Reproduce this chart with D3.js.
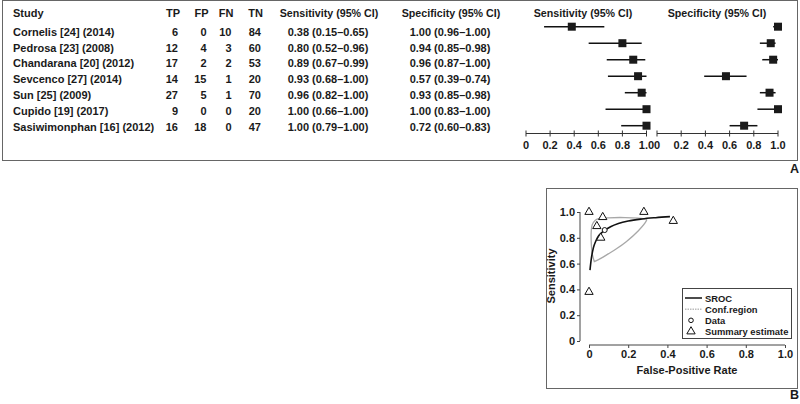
<!DOCTYPE html>
<html>
<head>
<meta charset="utf-8">
<script src="https://cdn.jsdelivr.net/npm/d3@7"></script>
<style>
  body { margin: 0; background: #fff; }
  text { font-family: "Liberation Sans", Arial, Helvetica, sans-serif; font-weight: bold; fill: #1a1a1a; }
</style>
</head>
<body>
<div id="root"></div>
<script>
// study table
const studies = ["Cornelis [24] (2014)", "Pedrosa [23] (2008)", "Chandarana [20] (2012)",
  "Sevcenco [27] (2014)", "Sun [25] (2009)", "Cupido [19] (2017)", "Sasiwimonphan [16] (2012)"]
const tp = [6, 12, 17, 14, 27, 9, 16]
const fp = [0, 4, 2, 15, 5, 0, 18]
const fn = [10, 3, 2, 1, 1, 0, 0]
const tn = [84, 60, 53, 20, 70, 20, 47]
const sens = [0.38, 0.80, 0.89, 0.93, 0.96, 1.00, 1.00]
const sensLo = [0.15, 0.52, 0.67, 0.68, 0.82, 0.66, 0.79]
const sensHi = [0.65, 0.96, 0.99, 1.00, 1.00, 1.00, 1.00]
const spec = [1.00, 0.94, 0.96, 0.57, 0.93, 1.00, 0.72]
const specLo = [0.96, 0.85, 0.87, 0.39, 0.85, 0.83, 0.60]
const specHi = [1.00, 0.98, 1.00, 0.74, 0.98, 1.00, 0.83]
const forestTicks = [0, 0.2, 0.4, 0.6, 0.8, 1.0]

// SROC panel
const srocFpr = [0.005, 0.012, 0.022, 0.035, 0.047, 0.065, 0.082, 0.11, 0.15, 0.2, 0.27, 0.34, 0.413]
const srocSens = [0.55, 0.64, 0.72, 0.775, 0.81, 0.84, 0.86, 0.885, 0.91, 0.93, 0.946, 0.956, 0.964]
const confFpr = [0.027, 0.016, 0.012, 0.011, 0.016, 0.031, 0.05, 0.098, 0.184, 0.25, 0.294, 0.29, 0.252, 0.19, 0.14, 0.098, 0.06, 0.027]
const confSens = [0.615, 0.68, 0.75, 0.84, 0.90, 0.935, 0.948, 0.955, 0.957, 0.952, 0.942, 0.925, 0.855, 0.77, 0.715, 0.675, 0.64, 0.615]
const summaryPoint = [0.08, 0.86]
const rocTicks = [0, 0.2, 0.4, 0.6, 0.8, 1.0]
const legendItems = ["SROC", "Conf.region", "Data", "Summary estimate"]

const W = 800, H = 404
const svg = d3.select("#root").append("svg").attr("width", W).attr("height", H)

const fmt = d3.format(".2f")
const tickFmt = d => d === 0 ? "0" : d3.format(".1f")(d)

// ---------- panel A ----------
svg.append("rect").attr("x", 2.5).attr("y", 0.5).attr("width", 795).attr("height", 160)
  .attr("fill", "none").attr("stroke", "#666").attr("stroke-width", 1)

const rowY = d3.scaleLinear().domain([0, 6]).range([31.7, 126.7])
const fs = 11
const hs = 10.7

const header = svg.append("g")
header.append("text").attr("x", 13).attr("y", 16.7).attr("font-size", fs).text("Study")
const numCols = [
  {name: "TP", x: 180, vals: tp},
  {name: "FP", x: 208.5, vals: fp},
  {name: "FN", x: 233.5, vals: fn},
  {name: "TN", x: 263, vals: tn}
]
numCols.forEach(c => {
  header.append("text").attr("x", c.x).attr("y", 16.7).attr("font-size", fs)
    .attr("text-anchor", "end").text(c.name)
})
header.append("text").attr("x", 329).attr("y", 16.7).attr("font-size", hs)
  .attr("text-anchor", "middle").text("Sensitivity (95% CI)")
header.append("text").attr("x", 451).attr("y", 16.7).attr("font-size", hs)
  .attr("text-anchor", "middle").text("Specificity (95% CI)")
header.append("text").attr("x", 583).attr("y", 16.7).attr("font-size", hs)
  .attr("text-anchor", "middle").text("Sensitivity (95% CI)")
header.append("text").attr("x", 717).attr("y", 16.7).attr("font-size", hs)
  .attr("text-anchor", "middle").text("Specificity (95% CI)")

const rows = svg.append("g").selectAll("g").data(studies).join("g")
  .attr("transform", (d, i) => `translate(0,${rowY(i) + 4})`)
rows.append("text").attr("x", 13).attr("font-size", fs).text(d => d)
numCols.forEach(c => {
  rows.append("text").attr("x", c.x - 2).attr("font-size", fs).attr("text-anchor", "end")
    .text((d, i) => c.vals[i])
})
rows.append("text").attr("x", 328).attr("font-size", fs).attr("text-anchor", "middle")
  .text((d, i) => `${fmt(sens[i])} (${fmt(sensLo[i])}–${fmt(sensHi[i])})`)
rows.append("text").attr("x", 450).attr("font-size", fs).attr("text-anchor", "middle")
  .text((d, i) => `${fmt(spec[i])} (${fmt(specLo[i])}–${fmt(specHi[i])})`)

// forest plots
const markY = d3.scaleLinear().domain([0, 6]).range([26.7, 125.7])
const axisY = 133.5
function forest(x0, x1, est, lo, hi) {
  const x = d3.scaleLinear().domain([0, 1]).range([x0, x1])
  const g = svg.append("g")
  g.selectAll("line.ci").data(est).join("line").attr("class", "ci")
    .attr("x1", (d, i) => x(lo[i])).attr("x2", (d, i) => x(hi[i]))
    .attr("y1", (d, i) => markY(i)).attr("y2", (d, i) => markY(i))
    .attr("stroke", "#111").attr("stroke-width", 1.5)
  g.selectAll("rect").data(est).join("rect")
    .attr("x", d => x(d) - 4).attr("y", (d, i) => markY(i) - 4)
    .attr("width", 8).attr("height", 8).attr("fill", "#1a1a1a")
  const ax = svg.append("g").attr("transform", `translate(0,${axisY})`)
  ax.append("line").attr("x1", x0).attr("x2", x1).attr("stroke", "#333").attr("stroke-width", 1)
  ax.selectAll("line.tk").data(forestTicks).join("line").attr("class", "tk")
    .attr("x1", d => x(d)).attr("x2", d => x(d)).attr("y1", -3).attr("y2", 3)
    .attr("stroke", "#333").attr("stroke-width", 1)
  ax.selectAll("text").data(forestTicks).join("text")
    .attr("x", d => x(d)).attr("y", 15).attr("text-anchor", "middle").attr("font-size", fs)
    .text(tickFmt)
}
forest(526, 646.5, sens, sensLo, sensHi)
forest(657, 778, spec, specLo, specHi)

svg.append("text").attr("x", 799).attr("y", 172.5).attr("text-anchor", "end")
  .attr("font-size", 12.5).text("A")

// ---------- panel B ----------
svg.append("rect").attr("x", 546.5).attr("y", 188.5).attr("width", 251).attr("height", 200)
  .attr("fill", "none").attr("stroke", "#666").attr("stroke-width", 1)
svg.append("text").attr("x", 799).attr("y", 398.5).attr("text-anchor", "end")
  .attr("font-size", 12.5).text("B")

const rx = d3.scaleLinear().domain([0, 1]).range([589, 785])
const ry = d3.scaleLinear().domain([0, 1]).range([341, 212])

const yAx = svg.append("g").attr("transform", "translate(580,0)")
  .call(d3.axisLeft(ry).tickValues(rocTicks).tickFormat(tickFmt).tickSize(3).tickPadding(2))
const xAx = svg.append("g").attr("transform", "translate(0,345)")
  .call(d3.axisBottom(rx).tickValues(rocTicks).tickFormat(tickFmt).tickSize(3).tickPadding(2))
;[yAx, xAx].forEach(a => {
  a.select(".domain").attr("stroke", "#444")
  a.selectAll(".tick line").attr("stroke", "#444")
  a.selectAll("text").attr("font-size", fs).attr("font-family", null).attr("fill", "#1a1a1a")
})
yAx.select(".domain").attr("d", `M0,${ry(0)}V${ry(1)}`)
xAx.select(".domain").attr("d", `M${rx(0)},0H${rx(1)}`)

svg.append("text").attr("x", 687).attr("y", 374).attr("text-anchor", "middle")
  .attr("font-size", fs).text("False-Positive Rate")
svg.append("text").attr("transform", "translate(555,276) rotate(-90)")
  .attr("text-anchor", "middle").attr("font-size", fs).text("Sensitivity")

const line = d3.line().x(d => rx(d[0])).y(d => ry(d[1]))
svg.append("path").datum(d3.zip(confFpr, confSens))
  .attr("d", line.curve(d3.curveCatmullRomClosed)).attr("fill", "none")
  .attr("stroke", "#a8a8a8").attr("stroke-width", 1.3)
svg.append("path").datum(d3.zip(srocFpr, srocSens))
  .attr("d", d3.line().x(d => rx(d[0])).y(d => ry(d[1])).curve(d3.curveMonotoneX))
  .attr("fill", "none").attr("stroke", "#111").attr("stroke-width", 1.6)

const tri = d3.symbol().type(d3.symbolTriangle).size(30)
svg.append("g").selectAll("path").data(sens).join("path")
  .attr("transform", (d, i) => `translate(${rx(1 - spec[i])},${ry(d)})`)
  .attr("d", tri).attr("fill", "#fff").attr("stroke", "#111").attr("stroke-width", 1)
svg.append("circle").attr("cx", rx(summaryPoint[0])).attr("cy", ry(summaryPoint[1]))
  .attr("r", 2.5).attr("fill", "#fff").attr("stroke", "#111").attr("stroke-width", 1)

// legend
const lg = svg.append("g").attr("transform", "translate(682,288)")
lg.append("rect").attr("x", 0.5).attr("y", 0.5).attr("width", 109).attr("height", 50)
  .attr("fill", "#fff").attr("stroke", "#444").attr("stroke-width", 1)
const ly = d3.scaleLinear().domain([0, 3]).range([10, 43.5])
lg.append("line").attr("x1", 3).attr("x2", 20).attr("y1", ly(0)).attr("y2", ly(0))
  .attr("stroke", "#111").attr("stroke-width", 1.5)
lg.append("line").attr("x1", 3).attr("x2", 20).attr("y1", ly(1)).attr("y2", ly(1))
  .attr("stroke", "#9a9a9a").attr("stroke-width", 1).attr("stroke-dasharray", "1.5,1")
lg.append("circle").attr("cx", 9).attr("cy", ly(2)).attr("r", 2.3)
  .attr("fill", "none").attr("stroke", "#111").attr("stroke-width", 1)
lg.append("path").attr("transform", `translate(9,${ly(3)})`).attr("d", tri)
  .attr("fill", "none").attr("stroke", "#111").attr("stroke-width", 1)
lg.selectAll("text").data(legendItems).join("text")
  .attr("x", 23).attr("y", (d, i) => ly(i) + 3.5).attr("font-size", 9.4).text(d => d)
</script>
</body>
</html>
